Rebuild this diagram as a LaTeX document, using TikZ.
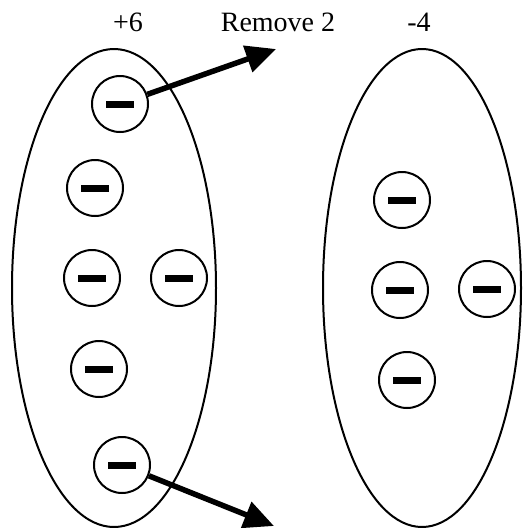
\documentclass[tikz,border=0pt]{standalone}
\usepackage{fontspec}
\setmainfont{Liberation Serif}
\usetikzlibrary{arrows.meta}
\begin{document}
\begin{tikzpicture}[x=1pt,y=-1pt,
  charge/.style={circle,draw,line width=2pt,minimum size=56pt,inner sep=0pt,
    path picture={\fill ([xshift=-14pt,yshift=-3.5pt]path picture bounding box.center) rectangle ++(28pt,7pt);}},
  blob/.style={draw,line width=2pt},
  movearrow/.style={line width=5.5pt,-{Triangle[length=30pt,width=27pt]}},
  lbl/.style={font=\fontsize{28}{30}\selectfont,anchor=base,inner sep=0pt}]
\useasboundingbox (0,0) rectangle (523,528);
\draw[blob] (114,288) ellipse [x radius=102, y radius=239];
\draw[blob] (422,288) ellipse [x radius=99, y radius=239];
\node[charge] (c1) at (120,104) {};
\node[charge] (c2) at (95,188) {};
\node[charge] (c3) at (92,278) {};
\node[charge] (c4) at (179,278) {};
\node[charge] (c5) at (99,369) {};
\node[charge] (c6) at (122,465) {};
\node[charge] (c7) at (402,200) {};
\node[charge] (c8) at (400,290) {};
\node[charge] (c9) at (487,289) {};
\node[charge] (c10) at (407,380) {};
\node[lbl] (l1) at (128,31) {+6};
\node[lbl] (l2) at (278,31) {Remove 2};
\node[lbl] (l3) at (419,31) {-4};
\coordinate (t1) at (276,49);
\coordinate (t2) at (274,526);
\draw[movearrow] (c1) -- (t1);
\draw[movearrow] (c6) -- (t2);
\end{tikzpicture}
\end{document}
